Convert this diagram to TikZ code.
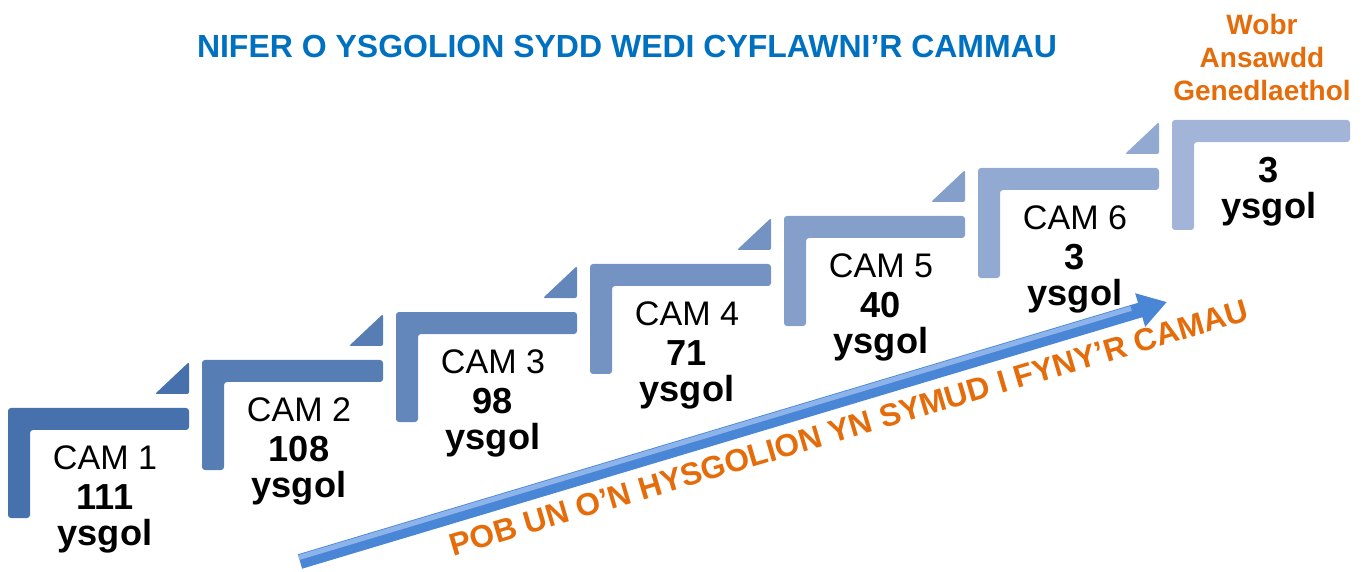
\documentclass[tikz,border=0pt]{standalone}
\usepackage{fontspec}
\setmainfont{Liberation Sans}
\usetikzlibrary{arrows.meta,calc}

\definecolor{stairdark}{HTML}{4671AC}
\definecolor{stairpale}{HTML}{A2B5D9}
\definecolor{titleblue}{HTML}{0070C0}
\definecolor{wobrorange}{HTML}{E46C0A}
\definecolor{arrowblue}{HTML}{4A86D6}
\definecolor{arrowlight}{HTML}{8DB4EA}

\newcommand{\bigbf}{\fontsize{10.3}{10.2}\selectfont\bfseries}

\begin{document}
\begin{tikzpicture}[
    stair/.pic={
      \fill[pic actions, rounded corners=0.3mm] (0,0) -- (1.81,0) -- (1.81,-0.22) -- (0.22,-0.22) -- (0.22,-1.10) -- (0,-1.10) -- cycle;
      \fill[pic actions, rounded corners=0.2mm] (1.47,0.14) -- (1.81,0.46) -- (1.81,0.14) -- cycle;
    },
    camlabel/.style={anchor=north, align=center, inner sep=0pt, font=\fontsize{9.7}{10.2}\selectfont},
  ]
    \useasboundingbox (0,0) rectangle (13.67,5.71);

    % The steps (darker at the bottom, paler towards the top)
    \pic[fill=stairdark] at (0.08,1.63) {stair};
    \pic[fill=stairdark!83!stairpale] at (2.02,2.11) {stair};
    \pic[fill=stairdark!67!stairpale] at (3.96,2.59) {stair};
    \pic[fill=stairdark!50!stairpale] at (5.90,3.07) {stair};
    \pic[fill=stairdark!33!stairpale] at (7.84,3.55) {stair};
    \pic[fill=stairdark!17!stairpale] at (9.78,4.03) {stair};
    \fill[stairpale, rounded corners=0.3mm] (11.72,4.51) -- (13.50,4.51) -- (13.50,4.29) -- (11.94,4.29) -- (11.94,3.41) -- (11.72,3.41) -- cycle;

    % Number of schools on each step
    \node (cam1) at (1.05,1.26) [camlabel] {CAM 1\\[1.2pt]{\bigbf 111}\\{\bigbf ysgol}};
    \node (cam2) at (2.99,1.74) [camlabel] {CAM 2\\[1.2pt]{\bigbf 108}\\{\bigbf ysgol}};
    \node (cam3) at (4.93,2.22) [camlabel] {CAM 3\\[1.2pt]{\bigbf 98}\\{\bigbf ysgol}};
    \node (cam4) at (6.87,2.70) [camlabel] {CAM 4\\[1.2pt]{\bigbf 71}\\{\bigbf ysgol}};
    \node (cam5) at (8.81,3.18) [camlabel] {CAM 5\\[1.2pt]{\bigbf 40}\\{\bigbf ysgol}};
    \node (cam6) at (10.75,3.66) [camlabel] {CAM 6\\[1.2pt]{\bigbf 3}\\{\bigbf ysgol}};
    \node (wobrcount) at (12.69,4.14) [camlabel] {{\bigbf 3}\\{\bigbf ysgol}};

    \node (wobr) at (12.62,5.58) [anchor=north, align=center, inner sep=0pt, text=wobrorange, font=\fontsize{7.97}{9.5}\selectfont\bfseries] {Wobr\\Ansawdd\\Genedlaethol};

    % Title
    \node (title) at (6.27,5.13) [anchor=base, text=titleblue, font=\fontsize{9.1}{11}\selectfont\bfseries] {NIFER O YSGOLION SYDD WEDI CYFLAWNI’R CAMMAU};

    % The rising arrow
    \coordinate (risetail) at (3.00,0.095);
    \coordinate (risetip) at (11.67,2.69);
    \draw[arrowblue, line width=1.5mm, -{Triangle[width=3.3mm,length=2.8mm]}] (risetail) -- (risetip);
    \draw[arrowlight, line width=0.5mm] ($(risetail)+(-0.012,0.04)$) -- ($(risetail)!0.96!(risetip)+(-0.012,0.04)$);

    \node (slogan) at (8.52,1.33) [anchor=base, rotate=16.5, inner sep=0pt, text=wobrorange, font=\fontsize{9}{11}\selectfont\bfseries] {POB UN O’N HYSGOLION YN SYMUD I FYNY’R CAMAU};
\end{tikzpicture}
\end{document}
